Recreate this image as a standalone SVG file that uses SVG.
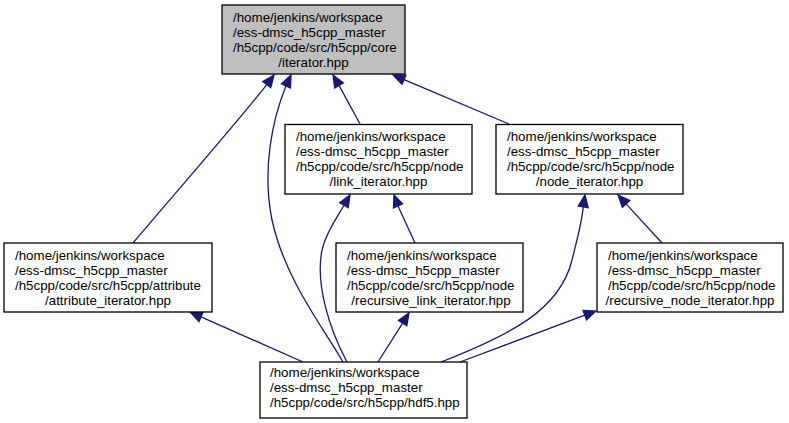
<svg xmlns="http://www.w3.org/2000/svg" width="789" height="423" viewBox="0 0 789 423">
<style>
.box{fill:#ffffff;stroke:#000000;stroke-width:1.3}
.hl{fill:#bfbfbf}
text{font-family:"Liberation Sans",Arial,Helvetica,sans-serif;font-size:13.33px;fill:#000000}
.c{text-anchor:middle}
.edge{fill:none;stroke:#191970;stroke-width:1.3}
.arr{fill:#191970;stroke:#191970;stroke-width:1.3}
</style>
<rect width="789" height="423" fill="#ffffff"/>
<g id="edges">
<path class="edge" d="M133,243 C165,205 235,125 266.8,84.6"/>
<polygon class="arr" points="274,75 270.8,87.6 262.8,81.6"/>
<path class="edge" d="M343,362 C325,330 285,280 272,220 C262,170 272,120 286,85.9"/>
<polygon class="arr" points="291,75 290.5,88 281.5,83.8"/>
<path class="edge" d="M360,124 L339,85.4"/>
<polygon class="arr" points="333,75 343.4,82.9 334.7,87.9"/>
<path class="edge" d="M509,124 L404,79.7"/>
<polygon class="arr" points="393,75 406,75.1 402,84.3"/>
<path class="edge" d="M347,362 C330,330 315,285 322,250 C326,232 338,216 344,205.3"/>
<polygon class="arr" points="350,195 348.3,207.8 339.7,202.8"/>
<path class="edge" d="M415,243 L398,205.9"/>
<polygon class="arr" points="394,195 402.6,203.8 393.5,208"/>
<path class="edge" d="M441,362 C510,335 560,310 572,260 C577,240 582,222 583.2,206.9"/>
<polygon class="arr" points="585,195 588.2,207.6 578.3,206.1"/>
<path class="edge" d="M662,243 L626.1,203.9"/>
<polygon class="arr" points="618,195 629.8,200.5 622.4,207.3"/>
<path class="edge" d="M303,362 L201,316.9"/>
<polygon class="arr" points="190,312 203,312.3 199,321.5"/>
<path class="edge" d="M378,362 L402.6,323.1"/>
<polygon class="arr" points="409,313 406.8,325.8 398.4,320.5"/>
<path class="edge" d="M460,362 L584.8,315.2"/>
<polygon class="arr" points="596,311 586.5,319.9 583,310.5"/>
</g>
<g id="node_iterator_core">
<rect class="box hl" x="222" y="5" width="183" height="69"/>
<text x="233" y="22">/home/jenkins/workspace</text>
<text x="233" y="37">/ess-dmsc_h5cpp_master</text>
<text x="233" y="52">/h5cpp/code/src/h5cpp/core</text>
<text class="c" x="313.5" y="67">/iterator.hpp</text>
</g>
<g id="node_link_iterator">
<rect class="box" x="285" y="124.5" width="187" height="69.5"/>
<text x="296" y="141">/home/jenkins/workspace</text>
<text x="296" y="156">/ess-dmsc_h5cpp_master</text>
<text x="296" y="171">/h5cpp/code/src/h5cpp/node</text>
<text class="c" x="378.5" y="186">/link_iterator.hpp</text>
</g>
<g id="node_node_iterator">
<rect class="box" x="496" y="124.5" width="187" height="69.5"/>
<text x="507" y="141">/home/jenkins/workspace</text>
<text x="507" y="156">/ess-dmsc_h5cpp_master</text>
<text x="507" y="171">/h5cpp/code/src/h5cpp/node</text>
<text class="c" x="589.5" y="186">/node_iterator.hpp</text>
</g>
<g id="node_attribute_iterator">
<rect class="box" x="4" y="243" width="208" height="69"/>
<text x="15" y="260">/home/jenkins/workspace</text>
<text x="15" y="275">/ess-dmsc_h5cpp_master</text>
<text x="15" y="290">/h5cpp/code/src/h5cpp/attribute</text>
<text class="c" x="108" y="305">/attribute_iterator.hpp</text>
</g>
<g id="node_recursive_link_iterator">
<rect class="box" x="336" y="243" width="187" height="69"/>
<text x="347" y="260">/home/jenkins/workspace</text>
<text x="347" y="275">/ess-dmsc_h5cpp_master</text>
<text x="347" y="290">/h5cpp/code/src/h5cpp/node</text>
<text class="c" x="431" y="305">/recursive_link_iterator.hpp</text>
</g>
<g id="node_recursive_node_iterator">
<rect class="box" x="597" y="243" width="186" height="69"/>
<text x="608" y="260">/home/jenkins/workspace</text>
<text x="608" y="275">/ess-dmsc_h5cpp_master</text>
<text x="608" y="290">/h5cpp/code/src/h5cpp/node</text>
<text class="c" x="690" y="305">/recursive_node_iterator.hpp</text>
</g>
<g id="node_hdf5">
<rect class="box" x="260" y="362" width="207" height="56"/>
<text x="270" y="377">/home/jenkins/workspace</text>
<text x="270" y="392">/ess-dmsc_h5cpp_master</text>
<text x="270" y="407">/h5cpp/code/src/h5cpp/hdf5.hpp</text>
</g>
</svg>
